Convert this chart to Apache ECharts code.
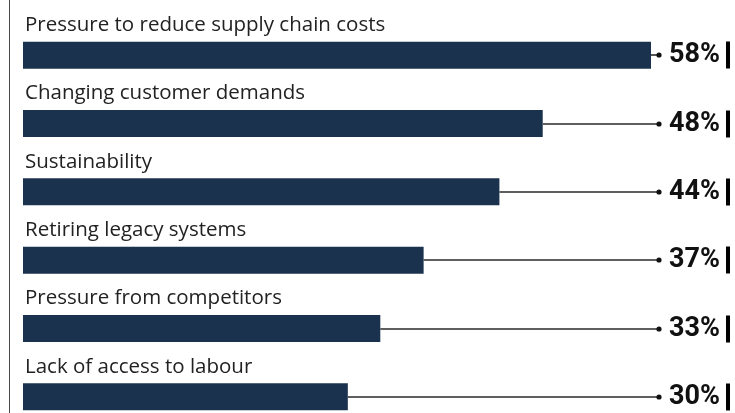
<!DOCTYPE html>
<html>
<head>
<meta charset="utf-8">
<style>
  html, body { margin: 0; padding: 0; background: #ffffff; }
  #chart { width: 735px; height: 413px; }
</style>
<script src="https://cdn.jsdelivr.net/npm/echarts@6/dist/echarts.min.js"></script>
</head>
<body>
<div id="chart"></div>
<script>
// Drivers of supply chain change, share of respondents (%)
var categories = [
  'Pressure to reduce supply chain costs',
  'Changing customer demands',
  'Sustainability',
  'Retiring legacy systems',
  'Pressure from competitors',
  'Lack of access to labour'
];
var values = [58, 48, 44, 37, 33, 30];

var BAR_COLOR = '#1b324e';
var DOT_X = 659;        // where each leader line ends
var LABEL_RIGHT = 720;  // right edge of the value labels
var MARK_X = 726;       // thin black marker after each value

var chart = echarts.init(document.getElementById('chart'), null, { renderer: 'canvas' });

var leaderData = values.map(function (v, i) { return [v, i]; });

chart.setOption({
  animation: false,
  backgroundColor: '#ffffff',
  // the last row runs past the bottom edge of the canvas
  grid: {
    left: 23, top: 21, width: 628, height: 410,
    outerBoundsMode: 'none',
    containLabel: false
  },
  xAxis: {
    type: 'value', min: 0, max: 58,
    show: false
  },
  yAxis: {
    type: 'category',
    data: categories,
    inverse: true,
    axisLine: { show: false },
    axisTick: { show: false },
    axisLabel: { show: false },
    splitLine: { show: false }
  },
  graphic: [{
    type: 'line',
    shape: { x1: 9.5, y1: 0, x2: 9.5, y2: 413 },
    style: { stroke: '#4a4a4a', lineWidth: 1 },
    silent: true
  }],
  series: [
    {
      type: 'bar',
      data: values,
      barWidth: 27,
      itemStyle: { color: BAR_COLOR },
      label: {
        show: true,
        position: [2, -6],
        align: 'left',
        verticalAlign: 'bottom',
        formatter: '{b}',
        color: '#222222',
        fontFamily: 'Open Sans',
        fontSize: 20.5,
        fontWeight: 'normal'
      },
      z: 3
    },
    {
      type: 'custom',
      data: leaderData,
      encode: { x: 0, y: 1 },
      z: 2,
      renderItem: function (params, api) {
        var p = api.coord([api.value(0), api.value(1)]);
        var h = 27;
        var y = Math.round(p[1]);
        return {
          type: 'group',
          children: [
            {
              type: 'line',
              shape: { x1: p[0], y1: y, x2: DOT_X, y2: y },
              style: { stroke: '#2a2a2a', lineWidth: 1.6 }
            },
            {
              type: 'circle',
              shape: { cx: DOT_X, cy: y, r: 2.6 },
              style: { fill: '#111111' }
            },
            {
              type: 'text',
              x: LABEL_RIGHT, y: y,
              style: {
                text: api.value(0) + '%',
                align: 'right',
                verticalAlign: 'middle',
                fill: '#111111',
                font: 'bold 27px Roboto'
              }
            },
            {
              type: 'rect',
              shape: { x: MARK_X, y: y - h / 2, width: 4, height: h },
              style: { fill: '#000000' }
            }
          ]
        };
      }
    }
  ]
});
</script>
</body>
</html>
